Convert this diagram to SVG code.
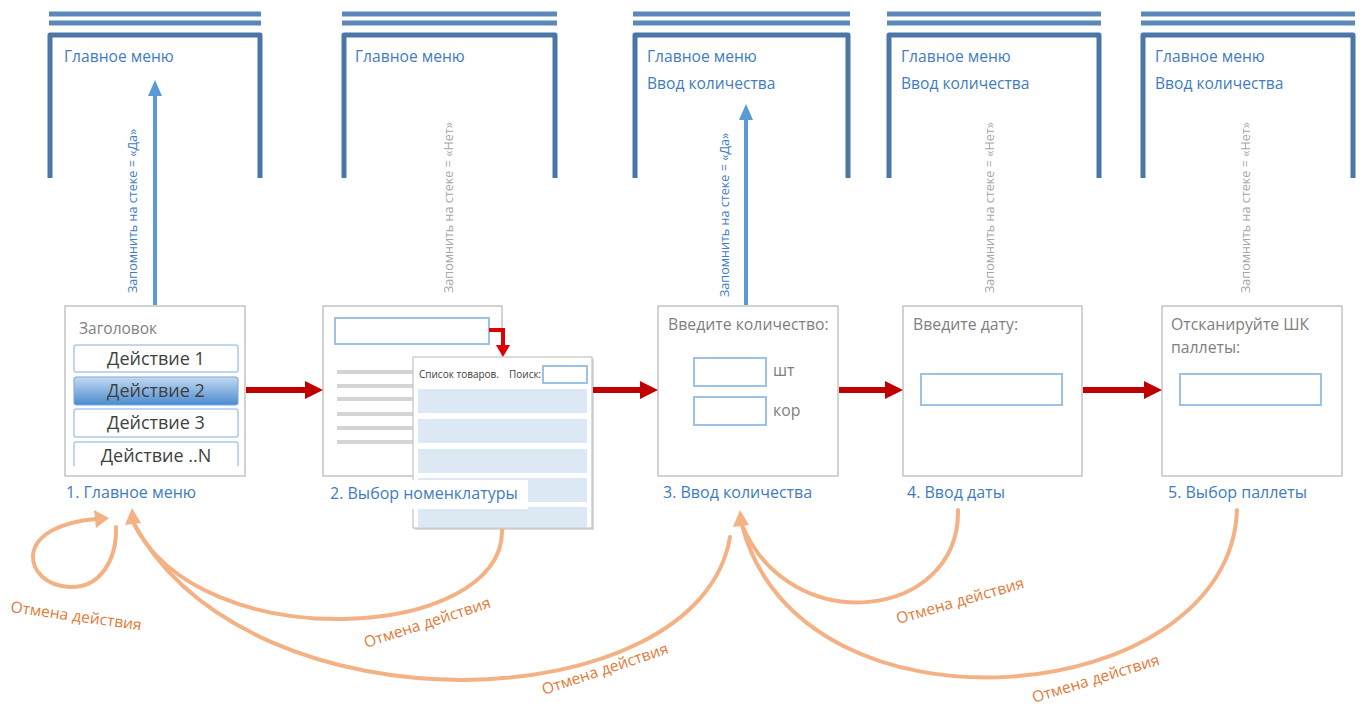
<svg xmlns="http://www.w3.org/2000/svg" width="1363" height="706" viewBox="0 0 1363 706">
<defs>
<style>
text{font-family:"Open Sans","Liberation Sans",sans-serif}
.dbl{stroke:#5b87ba;stroke-width:5;fill:none}
.frm{stroke:#4a76a8;stroke-width:5;fill:none;stroke-linejoin:round}
.ftx{fill:#3f7cc0;font-size:15.6px}
.rotY{fill:#3f7cc0;font-size:12.6px}
.rotN{fill:#a6a6a6;font-size:12.6px}
.scr{fill:#fff;stroke:#c4c4c4;stroke-width:1.5}
.gtx{fill:#808080;font-size:15.8px}
.inp{fill:#fff;stroke:#9cc2e8;stroke-width:2}
.btn{fill:#fff;stroke:#a9c9ea;stroke-width:1.5}
.btx{fill:#404040;font-size:18px;text-anchor:middle}
.lbl{fill:#3f7cc0;font-size:16px}
.gl{stroke:#d4d4d4;stroke-width:4}
.row{fill:#dde8f5}
.red{fill:#c00000}
.or{stroke:#f4b183;stroke-width:4;fill:none;stroke-linecap:round}
.orh{fill:#f4b183}
.otx{fill:#e07b39;font-size:15.6px}
</style>
<linearGradient id="bg2" x1="0" y1="0" x2="0" y2="1">
<stop offset="0" stop-color="#c4daf1"/>
<stop offset="1" stop-color="#4a8bd0"/>
</linearGradient>
<clipPath id="clip1"><rect x="65" y="306" width="180" height="160"/></clipPath>
</defs>

<!-- stack frames -->
<g id="stack1">
<line class="dbl" x1="49" y1="14" x2="261" y2="14"/><line class="dbl" x1="49" y1="23" x2="261" y2="23"/>
<path class="frm" d="M50,178 V35 H260 V178"/>
<text class="ftx" x="64" y="62">Главное меню</text>
</g>
<g id="stack2">
<line class="dbl" x1="342" y1="14" x2="557" y2="14"/><line class="dbl" x1="342" y1="23" x2="557" y2="23"/>
<path class="frm" d="M344,178 V35 H555 V178"/>
<text class="ftx" x="355" y="62">Главное меню</text>
</g>
<g id="stack3">
<line class="dbl" x1="633" y1="14" x2="850" y2="14"/><line class="dbl" x1="633" y1="23" x2="850" y2="23"/>
<path class="frm" d="M635,178 V35 H848 V178"/>
<text class="ftx" x="647" y="62">Главное меню</text>
<text class="ftx" x="647" y="89">Ввод количества</text>
</g>
<g id="stack4">
<line class="dbl" x1="887" y1="14" x2="1101" y2="14"/><line class="dbl" x1="887" y1="23" x2="1101" y2="23"/>
<path class="frm" d="M889,178 V35 H1099 V178"/>
<text class="ftx" x="901" y="62">Главное меню</text>
<text class="ftx" x="901" y="89">Ввод количества</text>
</g>
<g id="stack5">
<line class="dbl" x1="1141" y1="14" x2="1355" y2="14"/><line class="dbl" x1="1141" y1="23" x2="1355" y2="23"/>
<path class="frm" d="M1143,178 V35 H1353 V178"/>
<text class="ftx" x="1155" y="62">Главное меню</text>
<text class="ftx" x="1155" y="89">Ввод количества</text>
</g>

<!-- screen 1 -->
<g id="screen1">
<rect class="scr" x="65" y="306" width="180" height="170"/>
<text class="gtx" x="79" y="334" style="font-size:15.5px">Заголовок</text>
<g clip-path="url(#clip1)">
<rect class="btn" x="74" y="345" width="164" height="27" rx="2"/>
<text class="btx" x="156" y="365">Действие 1</text>
<rect x="74" y="377" width="164" height="28" rx="2" fill="url(#bg2)" stroke="#7aa7d8" stroke-width="1"/>
<text class="btx" x="156" y="397">Действие 2</text>
<rect class="btn" x="74" y="409" width="164" height="28" rx="2"/>
<text class="btx" x="156" y="429">Действие 3</text>
<rect class="btn" x="74" y="442" width="164" height="30" rx="2"/>
<text class="btx" x="156" y="462">Действие ..N</text>
</g>
<text class="lbl" x="66" y="498">1. Главное меню</text>
</g>

<!-- screen 2 -->
<g id="screen2">
<rect class="scr" x="323" y="306" width="179" height="170"/>
<rect class="inp" x="335" y="318" width="154" height="26"/>
<line class="gl" x1="337" y1="372" x2="414" y2="372"/>
<line class="gl" x1="337" y1="386" x2="414" y2="386"/>
<line class="gl" x1="337" y1="399" x2="414" y2="399"/>
<line class="gl" x1="337" y1="414" x2="414" y2="414"/>
<line class="gl" x1="337" y1="428" x2="414" y2="428"/>
<line class="gl" x1="337" y1="442" x2="414" y2="442"/>
<path d="M489,330 H503 V346" stroke="#e00000" stroke-width="4" fill="none"/>
<polygon points="496,345 510,345 503,357" fill="#e00000"/>
</g>
<g id="list">
<rect x="415" y="359" width="179" height="171" fill="#d9d9d9"/>
<rect x="413" y="357" width="179" height="171" fill="#fff" stroke="#c4c4c4" stroke-width="1.2"/>
<text x="419" y="378" style="font-size:10px;fill:#404040">Список товаров.</text>
<text x="509" y="378" style="font-size:10px;fill:#404040">Поиск:</text>
<rect class="inp" x="543" y="366" width="44" height="17"/>
<rect class="row" x="418" y="389" width="169" height="24"/>
<rect class="row" x="418" y="419" width="169" height="24"/>
<rect class="row" x="418" y="449" width="169" height="24"/>
<rect class="row" x="418" y="478" width="169" height="24"/>
<rect class="row" x="418" y="507" width="169" height="20"/>
<rect x="323" y="480" width="205" height="29" fill="#fff"/>
<text class="lbl" x="330" y="499">2. Выбор номенклатуры</text>
</g>

<!-- screen 3 -->
<g id="screen3">
<rect class="scr" x="658" y="306" width="180" height="170"/>
<text class="gtx" x="668" y="330">Введите количество:</text>
<rect class="inp" x="694" y="358" width="72" height="28"/>
<rect class="inp" x="694" y="397" width="72" height="28"/>
<text class="gtx" x="773" y="376">шт</text>
<text class="gtx" x="773" y="416">кор</text>
<text class="lbl" x="663" y="498">3. Ввод количества</text>
</g>

<!-- screen 4 -->
<g id="screen4">
<rect class="scr" x="903" y="306" width="179" height="170"/>
<text class="gtx" x="913" y="330">Введите дату:</text>
<rect class="inp" x="921" y="374" width="141" height="31"/>
<text class="lbl" x="907" y="498">4. Ввод даты</text>
</g>

<!-- screen 5 -->
<g id="screen5">
<rect class="scr" x="1162" y="306" width="180" height="170"/>
<text class="gtx" x="1171" y="330">Отсканируйте ШК</text>
<text class="gtx" x="1171" y="353">паллеты:</text>
<rect class="inp" x="1180" y="374" width="141" height="31"/>
<text class="lbl" x="1168" y="498">5. Выбор паллеты</text>
</g>

<!-- connectors -->
<g id="connectors">
<!-- stack push arrows and notes -->
<line x1="155" y1="305" x2="155" y2="94" stroke="#5b9bd5" stroke-width="4"/>
<polygon points="155,80 148,96 162,96" fill="#5b9bd5"/>
<line x1="746" y1="305" x2="746" y2="118" stroke="#5b9bd5" stroke-width="4"/>
<polygon points="746,104 739,120 753,120" fill="#5b9bd5"/>
<text class="rotY" transform="translate(137,293) rotate(-90)">Запомнить на стеке = «Да»</text>
<text class="rotN" transform="translate(453,293) rotate(-90)">Запомнить на стеке = «Нет»</text>
<text class="rotY" transform="translate(729,297) rotate(-90)">Запомнить на стеке = «Да»</text>
<text class="rotN" transform="translate(994,293) rotate(-90)">Запомнить на стеке = «Нет»</text>
<text class="rotN" transform="translate(1250,293) rotate(-90)">Запомнить на стеке = «Нет»</text>

<!-- red transitions -->
<polygon class="red" points="246,387 305,387 305,381 323,390 305,399 305,393 246,393"/>
<polygon class="red" points="593,387 640,387 640,381 658,390 640,399 640,393 593,393"/>
<polygon class="red" points="839,387 885,387 885,381 903,390 885,399 885,393 839,393"/>
<polygon class="red" points="1083,387 1144,387 1144,381 1162,390 1144,399 1144,393 1083,393"/>

<!-- cancel curves -->
<path class="or" d="M116,527 C117,560 100,588 70,587 C45,586 32,570 33,555 C35,535 60,522 96,519"/>
<polygon class="orh" points="109,518 94,510 96,528"/>
<path class="or" d="M502,530 C505,640 200,660 133,522"/>
<path class="or" d="M730,537 C700,720 250,740 133,522"/>
<polygon class="orh" points="132,508 125,525 141,523"/>
<path class="or" d="M958,510 C960,620 790,640 742,525"/>
<path class="or" d="M1237,510 C1230,710 800,750 742,525"/>
<polygon class="orh" points="740,510 733,527 749,525"/>

<text class="otx" transform="translate(10,612) rotate(8)">Отмена действия</text>
<text class="otx" transform="translate(366,648) rotate(-18)">Отмена действия</text>
<text class="otx" transform="translate(544,695) rotate(-18.5)">Отмена действия</text>
<text class="otx" transform="translate(898,624) rotate(-16)">Отмена действия</text>
<text class="otx" transform="translate(1034,703) rotate(-17)">Отмена действия</text>
</g>
</svg>
